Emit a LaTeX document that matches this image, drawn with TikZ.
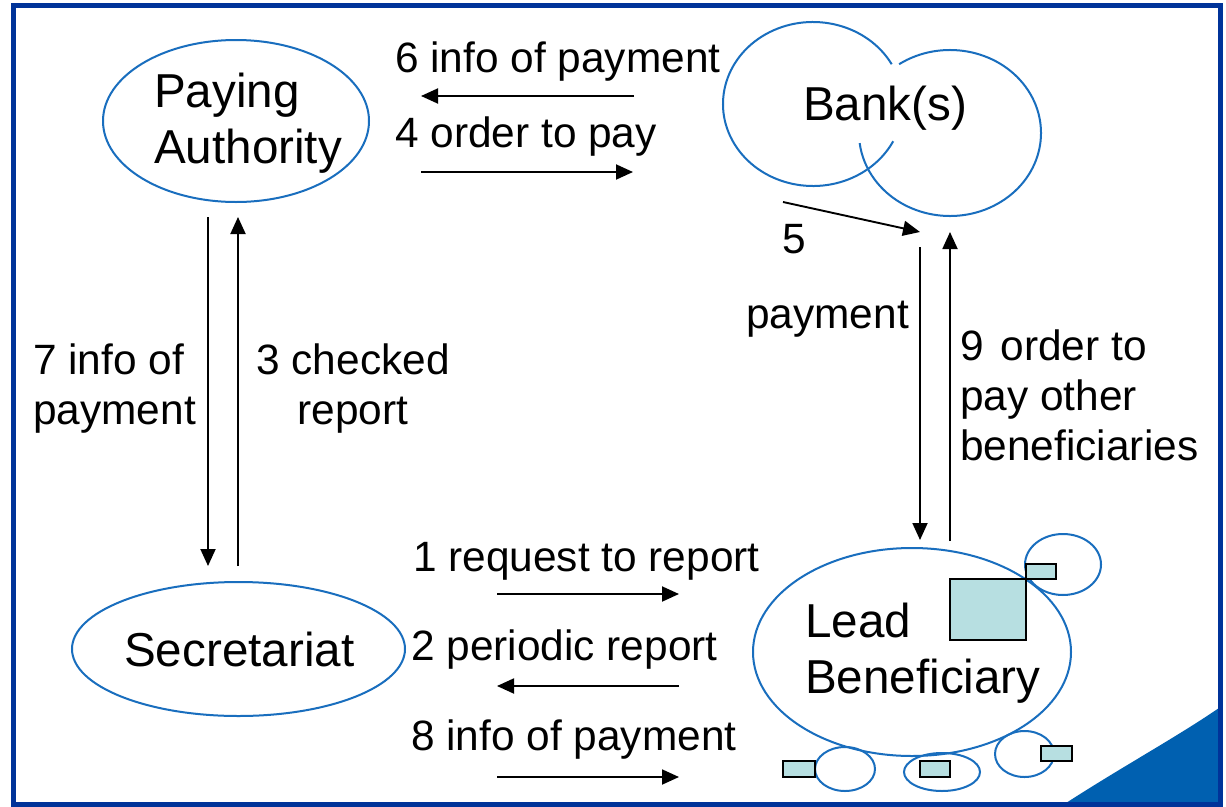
\documentclass[tikz,border=0pt]{standalone}
\usepackage{fontspec}
\setmainfont{Liberation Sans}
\usetikzlibrary{arrows.meta,shapes.geometric}
\definecolor{ellblue}{RGB}{25,110,190}
\definecolor{frameblue}{RGB}{0,51,153}
\definecolor{cornerblue}{RGB}{0,96,176}
\definecolor{boxfill}{RGB}{183,223,225}
\begin{document}
\begin{tikzpicture}[x=1pt,y=-1pt,
  ell/.style={draw=ellblue,line width=2pt,ellipse,inner sep=0pt,outer sep=0pt},
  arcline/.style={draw=ellblue,line width=2pt},
  lbl/.style={font=\fontsize{42.4}{50}\selectfont,inner sep=0pt,anchor=base west,align=left},
  ttl/.style={font=\fontsize{47.6}{56}\selectfont,inner sep=0pt,anchor=base west,align=left},
  flow/.style={line width=1.9pt,-{Triangle[length=17pt,width=15pt]}},
  sq/.style={draw=black,line width=1.8pt,fill=boxfill}]
\useasboundingbox (0,0) rectangle (1226,806);
\fill[white] (0,0) rectangle (1226,806);
\fill[cornerblue] (1066,803) .. controls (1125,765) and (1175,738) .. (1219,708) -- (1219,803) -- cycle;
\draw[frameblue,line width=5pt] (13,5) rectangle (1220.5,804);

% main ellipses
\node[ell,minimum width=266pt,minimum height=162pt] (pa) at (236,121) {};
\node[ell,minimum width=333pt,minimum height=134pt] (sec) at (238.5,649) {};
\node[ell,minimum width=318pt,minimum height=208pt] (lb) at (912,652) {};
% bank cloud
\draw[arcline] (813,104) ++(-29:90 and 82) arc[start angle=-29,end angle=-333,x radius=90,y radius=82];
\draw[arcline] (950,133) ++(-124:91 and 83) arc[start angle=-124,end angle=173,x radius=91,y radius=83];

% small satellites
\node[ell,minimum width=76pt,minimum height=61pt] (s1) at (1063,564.5) {};
\node[ell,minimum width=60pt,minimum height=44pt] (s2) at (845,769) {};
\node[ell,minimum width=76pt,minimum height=38pt] (s3) at (942,772) {};
\node[ell,minimum width=59pt,minimum height=46pt] (s4) at (1024.5,754) {};
\draw[sq] (950,579) rectangle (1026,640);
\draw[sq] (1026,564) rectangle (1056,579);
\draw[sq] (783,761) rectangle (815,777);
\draw[sq] (920,761) rectangle (950,777);
\draw[sq] (1041,746) rectangle (1072,761);

% titles (anchor at baseline of last line)
\node[ttl] (tpa) at (154,163) {Paying\\Authority};
\node[ttl] (tbank) at (803,120) {Bank(s)};
\node[ttl] (tsec) at (124,666) {Secretariat};
\node[ttl] (tlb) at (805,693) {Lead\\Beneficiary};

% labels
\node[lbl] (l6) at (395,72) {6 info of payment};
\node[lbl] (l4) at (395,147) {4 order to pay};
\node[lbl] (l5) at (782,253) {5};
\node[lbl] (l5b) at (746,328) {payment};
\node[lbl] (l9) at (960,460) {9\hspace{0.12em} order to\\pay other\\beneficiaries};
\node[lbl] (l7) at (33,424) {7 info of\\payment};
\node[lbl,align=center,anchor=base] (l3) at (353,424) {3 checked\\report};
\node[lbl] (l1) at (413,571) {1 request to report};
\node[lbl] (l2) at (411,660) {2 periodic report};
\node[lbl] (l8) at (411,750) {8 info of payment};

% connector end points
\coordinate (a6s) at (634,96);   \coordinate (a6e) at (421,96);
\coordinate (a4s) at (421,172);  \coordinate (a4e) at (633,172);
\coordinate (a5s) at (783,202);  \coordinate (a5e) at (920,232);
\coordinate (pys) at (920,247);  \coordinate (pye) at (920,540);
\coordinate (a9s) at (950,541);  \coordinate (a9e) at (950,232);
\coordinate (a7s) at (208,217);  \coordinate (a7e) at (208,566);
\coordinate (a3s) at (238,566);  \coordinate (a3e) at (238,217);
\coordinate (a1s) at (497,594);  \coordinate (a1e) at (679,594);
\coordinate (a2s) at (679,686);  \coordinate (a2e) at (497,686);
\coordinate (a8s) at (497,777);  \coordinate (a8e) at (679,777);

\draw[flow] (a6s) -- (a6e);
\draw[flow] (a4s) -- (a4e);
\draw[flow] (a5s) -- (a5e);
\draw[flow] (pys) -- (pye);
\draw[flow] (a9s) -- (a9e);
\draw[flow] (a7s) -- (a7e);
\draw[flow] (a3s) -- (a3e);
\draw[flow] (a1s) -- (a1e);
\draw[flow] (a2s) -- (a2e);
\draw[flow] (a8s) -- (a8e);
\end{tikzpicture}
\end{document}
